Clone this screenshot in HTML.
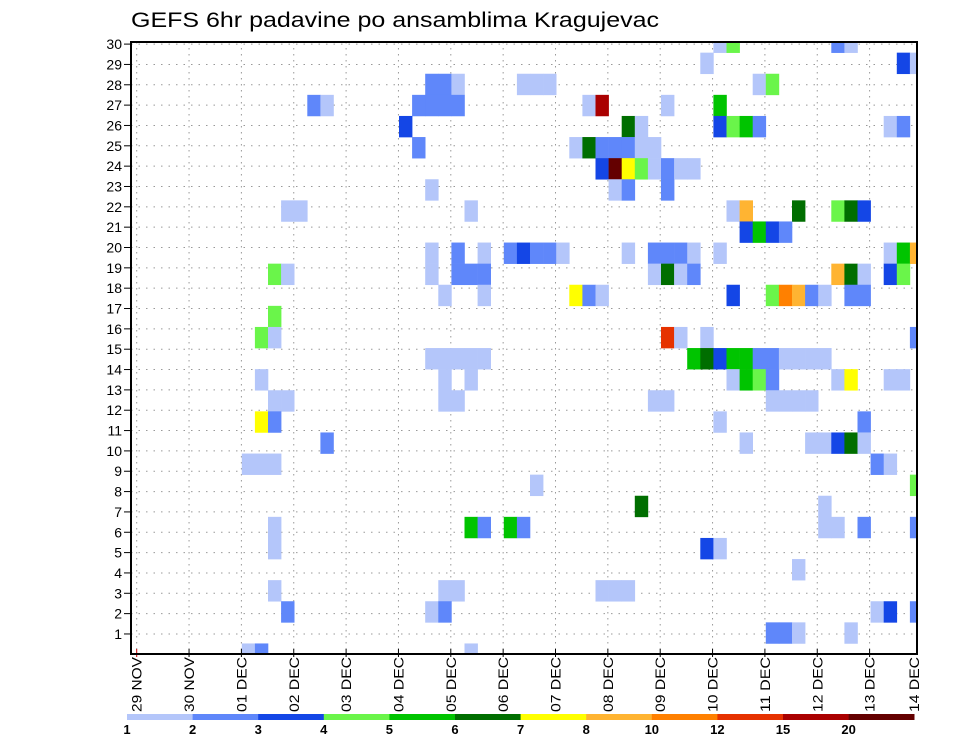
<!DOCTYPE html>
<html><head><meta charset="utf-8"><style>
html,body{margin:0;padding:0;background:#fff}
svg{display:block}
text{font-family:"Liberation Sans",sans-serif}
</style></head><body>
<svg id="chart" width="960" height="742" viewBox="0 0 960 742" xmlns="http://www.w3.org/2000/svg">
<text x="131" y="27" font-size="21" textLength="528" lengthAdjust="spacingAndGlyphs" fill="#000">GEFS 6hr padavine po ansamblima Kragujevac</text>
<g id="grid"></g>
<g id="cells"></g>
<g id="axes"></g>
<g id="legend"></g>
</svg>
<script>
const dayLabels = ["29 NOV","30 NOV","01 DEC","02 DEC","03 DEC","04 DEC","05 DEC","06 DEC","07 DEC","08 DEC","09 DEC","10 DEC","11 DEC","12 DEC","13 DEC","14 DEC"];
const yTickLabels = [1,2,3,4,5,6,7,8,9,10,11,12,13,14,15,16,17,18,19,20,21,22,23,24,25,26,27,28,29,30];
const levelLabels = ["1","2","3","4","5","6","7","8","10","12","15","20"];
const levelBounds = [1,2,3,4,5,6,7,8,10,12,15,20];
const levelColors = ["#b4c6fa","#5f87fa","#1446e6","#6af54a","#00c400","#006e00","#ffff00","#ffb432","#ff8000","#e63200","#aa0000","#640000"];
// ensemble member rows, with 6-hourly column indices and precipitation values
const rows = [30,29,28,27,26,25,24,23,22,21,20,19,18,17,16,15,14,13,12,11,10,9,8,7,6,5,4,3,2,1];
const rowCols = [
[44,45,53,54],
[43,58,59],
[22,23,24,29,30,31,47,48],
[13,14,21,22,23,24,34,35,40,44],
[20,37,38,44,45,46,47,57,58],
[21,33,34,35,36,37,38,39],
[35,36,37,38,39,40,41,42],
[22,36,37,40],
[11,12,25,45,46,50,53,54,55],
[46,47,48,49],
[22,24,26,28,29,30,31,32,37,39,40,41,42,44,57,58,59],
[10,11,22,24,25,26,39,40,41,42,53,54,55,57,58],
[23,26,33,34,35,45,48,49,50,51,52,54,55],
[10],
[9,10,40,41,43,59],
[22,23,24,25,26,42,43,44,45,46,47,48,49,50,51,52],
[9,23,25,45,46,47,48,53,54,57,58],
[10,11,23,24,39,40,48,49,50,51],
[9,10,44,55],
[14,46,51,52,53,54,55],
[8,9,10,56,57],
[30,59],
[38,52],
[10,25,26,28,29,52,53,55,59],
[10,43,44],
[50],
[10,23,24,35,36,37],
[11,22,23,56,57,59],
[48,49,50,54],
[8,9,25]
];
const rowVals = [
[1.5,4.5,2.5,1.5],
[1.5,3.5,1.5],
[2.5,2.5,1.5,1.5,1.5,1.5,1.5,4.5],
[2.5,1.5,2.5,2.5,2.5,2.5,1.5,17,1.5,5.5],
[3.5,6.5,1.5,3.5,4.5,5.5,2.5,1.5,2.5],
[2.5,1.5,6.5,2.5,2.5,2.5,1.5,1.5],
[3.5,25,7.5,4.5,1.5,2.5,1.5,1.5],
[1.5,1.5,2.5,2.5],
[1.5,1.5,1.5,1.5,9,6.5,4.5,6.5,3.5],
[3.5,5.5,3.5,2.5],
[1.5,2.5,1.5,2.5,3.5,2.5,2.5,1.5,1.5,2.5,2.5,2.5,1.5,1.5,1.5,5.5,9],
[4.5,1.5,1.5,2.5,2.5,2.5,1.5,6.5,1.5,2.5,9,6.5,1.5,3.5,4.5],
[1.5,1.5,7.5,2.5,1.5,3.5,4.5,11,9,2.5,1.5,2.5,2.5],
[4.5],
[4.5,1.5,13,1.5,1.5,2.5],
[1.5,1.5,1.5,1.5,1.5,5.5,6.5,3.5,5.5,5.5,2.5,2.5,1.5,1.5,1.5,1.5],
[1.5,1.5,1.5,1.5,5.5,4.5,2.5,1.5,7.5,1.5,1.5],
[1.5,1.5,1.5,1.5,1.5,1.5,1.5,1.5,1.5,1.5],
[7.5,2.5,1.5,2.5],
[2.5,1.5,1.5,1.5,3.5,6.5,1.5],
[1.5,1.5,1.5,2.5,1.5],
[1.5,4.5],
[6.5,1.5],
[1.5,5.5,2.5,5.5,2.5,1.5,1.5,2.5,2.5],
[1.5,3.5,1.5],
[1.5],
[1.5,1.5,1.5,1.5,1.5,1.5],
[2.5,1.5,2.5,1.5,3.5,2.5],
[2.5,2.5,1.5,1.5],
[1.5,2.5,1.5]
];

const NS = "http://www.w3.org/2000/svg";
const PL = 131, PR = 917, PT = 42, PB = 654;
const CW = 13.1, RH = 21.1;
function xCell(c){ return 137 + CW * c; }
function yCellCenter(j){ return 654 - (j - 1) * RH; }
function xDay(k){ return 136.7 + 52.35 * k; }
function yTick(r){ return 654.3 - 20.34 * r; }
function colorFor(v){
  let idx = -1;
  for (let i = 0; i < levelBounds.length; i++) if (v >= levelBounds[i]) idx = i;
  return idx < 0 ? null : levelColors[idx];
}
function mk(tag, attrs, parent){
  const e = document.createElementNS(NS, tag);
  for (const k in attrs) e.setAttribute(k, attrs[k]);
  parent.appendChild(e);
  return e;
}
const grid = document.getElementById('grid');
const cellsG = document.getElementById('cells');
const axes = document.getElementById('axes');
const legend = document.getElementById('legend');

// grid lines
yTickLabels.forEach(r => {
  const y = yTick(r);
  const l = mk('line', {x1:PL, x2:PR, y1:y, y2:y, stroke:'#999', 'stroke-width':1, 'stroke-dasharray':'1.5,6'}, grid);
  
  
});
dayLabels.forEach((d, k) => {
  const x = xDay(k);
  if (x > PR) return;
  const l = mk('line', {x1:x, x2:x, y1:PT, y2:PB, stroke:'#999', 'stroke-width':1, 'stroke-dasharray':'1.5,4.5'}, grid);
  
  
});

// cells
rows.forEach((j, ri) => {
  rowCols[ri].forEach((c, ci) => {
    const v = rowVals[ri][ci];
    const col = colorFor(v);
    if (!col) return;
    let x0 = Math.max(PL, xCell(c)), x1 = Math.min(PR, xCell(c) + CW);
    let y0 = Math.max(PT, yCellCenter(j) - RH / 2), y1 = Math.min(PB, yCellCenter(j) + RH / 2);
    if (x1 <= x0 || y1 <= y0) return;
    const r = mk('rect', {x:x0, y:y0, width:x1 - x0 + 0.3, height:y1 - y0 + 0.3, fill:col}, cellsG);
    
    
  });
});

// y axis ticks and labels
yTickLabels.forEach(r => {
  const y = yTick(r);
  mk('line', {x1:124, x2:PL, y1:y, y2:y, stroke:'#000', 'stroke-width':1}, axes);
  const t = mk('text', {x:122, y:y + 5, 'font-size':14, 'text-anchor':'end', fill:'#000'}, axes);
  t.textContent = r;
  
  
});
// x axis ticks and labels
dayLabels.forEach((d, k) => {
  const x = xDay(k);
  if (x <= PR) mk('line', {x1:x, x2:x, y1:PB - 5, y2:PB + 3, stroke:k === 0 ? '#c00' : '#000', 'stroke-width':1}, axes);
  const lx = Math.min(x, 914);
  const t = mk('text', {x:0, y:0, 'font-size':14, 'text-anchor':'end', fill:'#000',
    transform:'translate(' + (lx + 5) + ',657) rotate(-90)', textLength:55, lengthAdjust:'spacingAndGlyphs'}, axes);
  t.textContent = d;
  
  
});
// frame
const fr = mk('rect', {x:PL, y:PT, width:PR - PL, height:PB - PT, fill:'none', stroke:'#000', 'stroke-width':2}, axes);



// legend
const LW = 65.6, LX = 127;
levelColors.forEach((c, i) => {
  const r = mk('rect', {x:LX + LW * i, y:714, width:LW + 0.3, height:6, fill:c}, legend);
  
  
});
levelLabels.forEach((s, i) => {
  const t = mk('text', {x:LX + LW * i, y:734, 'font-size':13, 'font-weight':'bold', 'text-anchor':'middle', fill:'#000'}, legend);
  t.textContent = s;
  
  
});
</script>
</body></html>
